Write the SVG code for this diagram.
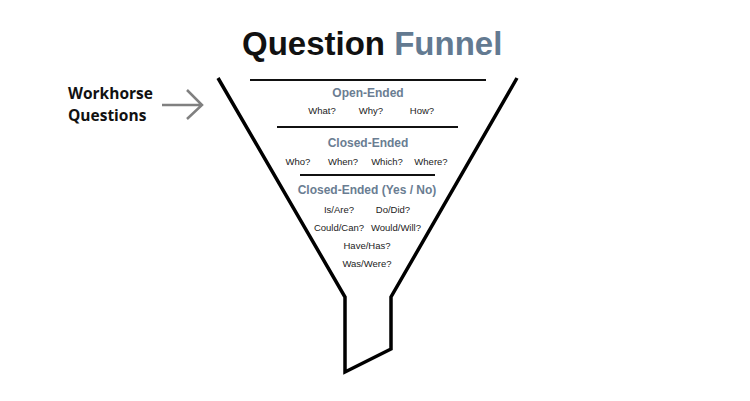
<svg xmlns="http://www.w3.org/2000/svg" width="750" height="401" viewBox="0 0 750 401">
<style>
.title{font-family:"Liberation Sans",Arial,sans-serif;font-weight:bold;font-size:33px}
.head{font-family:"Liberation Sans",Arial,sans-serif;font-weight:bold;font-size:12px;fill:#6a7d92;text-anchor:middle}
.q{font-family:"Liberation Sans",Arial,sans-serif;font-size:9.5px;fill:#222;text-anchor:middle}
.side{font-family:"Open Sans","Liberation Sans",sans-serif;font-weight:bold;font-size:15.5px;fill:#111}
.div{stroke:#111;stroke-width:2}
</style>
<rect width="750" height="401" fill="#ffffff"/>
<g id="title">
<text class="title" x="242" y="55"><tspan fill="#111">Question</tspan> <tspan fill="#637a91">Funnel</tspan></text>
</g>
<g id="funnel">
<path d="M218,78 L345,297 L345,372 L391,349 L391,297 L517,78" fill="none" stroke="#000" stroke-width="3.5" stroke-linejoin="miter"/>
<line class="div" x1="250" y1="80" x2="486" y2="80"/>
<line class="div" x1="277" y1="127" x2="458" y2="127"/>
<line class="div" x1="300" y1="175" x2="435" y2="175"/>
</g>
<g id="open-ended">
<text class="head" x="368" y="97">Open-Ended</text>
<text class="q" x="322" y="114">What?</text>
<text class="q" x="371" y="114">Why?</text>
<text class="q" x="422" y="114">How?</text>
</g>
<g id="closed-ended">
<text class="head" x="368" y="147">Closed-Ended</text>
<text class="q" x="298" y="165">Who?</text>
<text class="q" x="343" y="165">When?</text>
<text class="q" x="387" y="165">Which?</text>
<text class="q" x="431" y="165">Where?</text>
</g>
<g id="yes-no">
<text class="head" x="367" y="194">Closed-Ended (Yes / No)</text>
<text class="q" x="339" y="213">Is/Are?</text>
<text class="q" x="393" y="213">Do/Did?</text>
<text class="q" x="339" y="231">Could/Can?</text>
<text class="q" x="396" y="231">Would/Will?</text>
<text class="q" x="367" y="249">Have/Has?</text>
<text class="q" x="367" y="267">Was/Were?</text>
</g>
<g id="workhorse">
<text class="side" x="68" y="99">Workhorse</text>
<text class="side" x="68" y="121">Questions</text>
</g>
<g id="connectors">
<path d="M162,105 L202,105 M187,90 L202,105 L187,119" fill="none" stroke="#808080" stroke-width="2.5"/>
</g>
</svg>
